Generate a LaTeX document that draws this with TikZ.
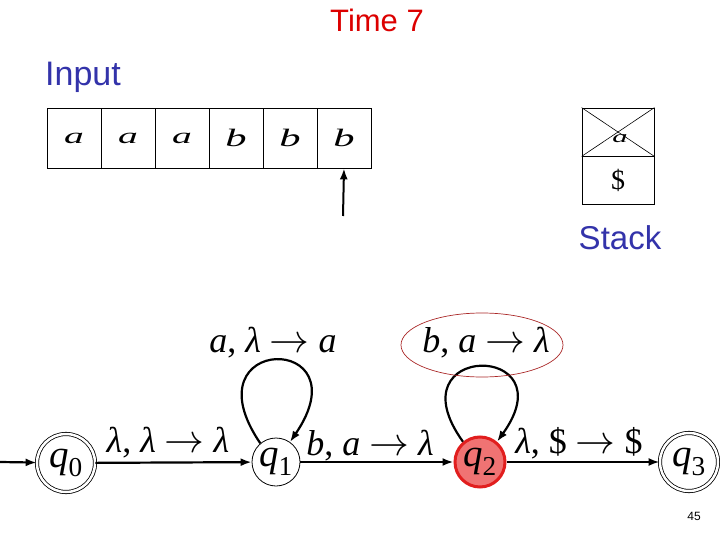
\documentclass[tikz,border=0pt]{standalone}
\usepackage{fontspec}
\setmainfont{Liberation Serif}
\newfontfamily\labelsans{Liberation Sans}
\usetikzlibrary{arrows.meta,shapes.geometric}
\definecolor{timered}{RGB}{220,0,0}
\definecolor{txtblue}{RGB}{51,51,170}
\definecolor{hlred}{RGB}{170,40,40}
\definecolor{q2fill}{RGB}{240,115,115}
\definecolor{q2edge}{RGB}{225,30,30}
\tikzset{
  cell/.style={draw,line width=0.8pt,minimum width=54pt,minimum height=60pt,inner sep=0pt},
  scell/.style={draw,line width=0.8pt,minimum width=72pt,minimum height=48pt,inner sep=0pt},
  state/.style={circle,draw,line width=0.8pt,minimum size=48pt,inner sep=0pt,font=\fontsize{39}{40}\selectfont},
  accept/.style={state,double,double distance=2.5pt,minimum size=58pt},
  edge/.style={line width=2.2pt,-{Latex[length=11pt,width=8pt]}},
  elabel/.style={font=\fontsize{36}{38}\selectfont,inner sep=0pt},
  sanslbl/.style={font=\labelsans\fontsize{31}{34}\selectfont,inner sep=0pt}
}
\newcommand{\tapea}{\scalebox{1.8}[1]{\fontsize{22}{24}\selectfont\textit{a}}}
\newcommand{\tapeb}{\scalebox{1.7}[1]{\fontsize{25}{27}\selectfont\textit{b}}}
\newcommand{\arr}{\scalebox{1.6}{$\rightarrow$}}
\begin{document}
\begin{tikzpicture}[x=1pt,y=-1pt]
\useasboundingbox (0,0) rectangle (720,540);
% titles
\node[sanslbl,text=timered] (time) at (377,20) {Time 7};
\node[sanslbl,text=txtblue,font=\labelsans\fontsize{34}{36}\selectfont] (input) at (83,77) {Input};
\node[sanslbl,text=txtblue,font=\labelsans\fontsize{33}{36}\selectfont] (stack) at (620,238) {Stack};
\node[font=\labelsans\fontsize{12}{14}\selectfont] (page) at (694,516) {45};
% tape
\node[cell] (c1) at (74,138) {\tapea};
\node[cell] (c2) at (128,138) {\tapea};
\node[cell] (c3) at (182,138) {\tapea};
\node[cell] (c4) at (236,138) {\tapeb};
\node[cell] (c5) at (290,138) {\tapeb};
\node[cell] (c6) at (344,138) {\tapeb};
\coordinate (head) at (343,216);
\draw[line width=2pt,-{Latex[length=11pt,width=8pt]}] (head) -- (c6.south);
% stack
\node[scell] (s1) at (618,132) {};
\node[scell] (s2) at (618,180) {\fontsize{28}{30}\selectfont\$};
\draw[line width=0.6pt] (s1.north west) -- (s1.south east);
\draw[line width=0.6pt] (s1.north east) -- (s1.south west);
\node[inner sep=0pt] (sa) at (620,139) {\scalebox{1.8}[1]{\fontsize{17}{18}\selectfont\textit{a}}};
% states
\node[accept] (q0) at (66,463) {\textit{q}\textsubscript{0}};
\node[state] (q1) at (276,462) {\textit{q}\textsubscript{1}};
\node[state,fill=q2fill,draw=q2edge,line width=3pt,minimum size=50pt] (q2) at (480,462) {\textit{q}\textsubscript{2}};
\node[accept] (q3) at (689,462) {\textit{q}\textsubscript{3}};
\coordinate (start) at (0,462);
% edges
\draw[edge] (start) -- (q0);
\draw[edge] (q0) -- (q1);
\draw[edge] (q1) -- (q2);
\draw[edge] (q2) -- (q3);
\draw[edge] (q1.130) .. controls +(-75,-110) and +(75,-110) .. (q1.55);
\draw[edge] (q2.130) .. controls +(-72,-100) and +(72,-100) .. (q2.50);
% labels
\node[elabel] (l01) at (168,443) {\textit{λ}, \textit{λ} \arr\ \textit{λ}};
\node[elabel] (l12) at (370,446) {\textit{b}, \textit{a} \arr\ \textit{λ}};
\node[elabel] (l23) at (579,443) {\textit{λ}, \$ \arr\ \$};
\node[elabel] (l11) at (273,343) {\textit{a}, \textit{λ} \arr\ \textit{a}};
\node[elabel] (l22) at (486,343) {\textit{b}, \textit{a} \arr\ \textit{λ}};
\node[ellipse,draw=hlred,line width=0.7pt,minimum width=162pt,minimum height=64pt] (hl) at (482,345) {};
\end{tikzpicture}
\end{document}
